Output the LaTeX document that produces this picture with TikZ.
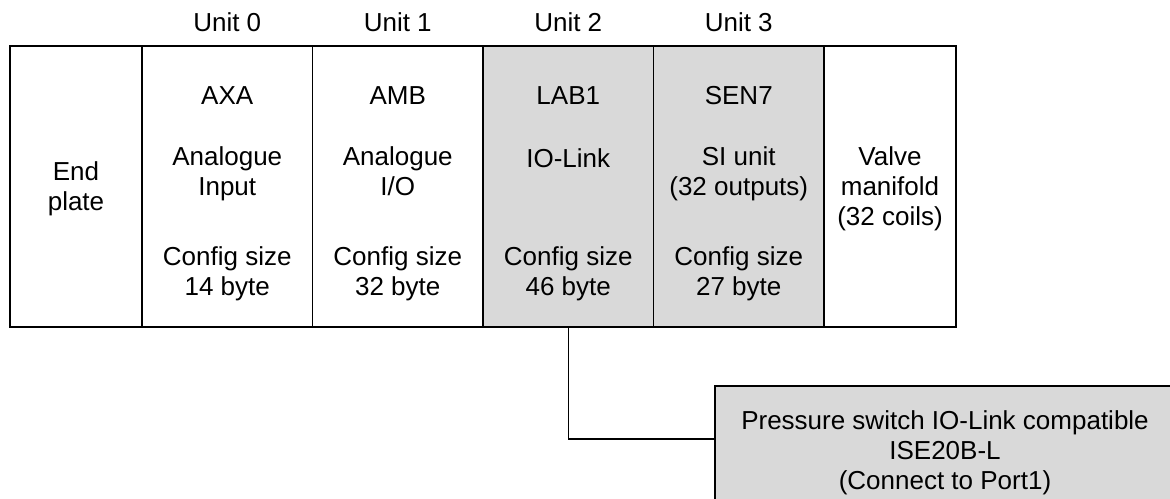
\documentclass[tikz,border=0pt]{standalone}
\usepackage{fontspec}
\setmainfont{Liberation Sans}
\usetikzlibrary{positioning}
\definecolor{unitgrey}{HTML}{D9D9D9}

\tikzset{
  unitbox/.style={draw, line width=1.5, minimum height=281pt, inner sep=0, outer sep=0, anchor=south west},
  lbl/.style={font=\fontsize{26}{30}\selectfont, align=center, inner sep=0, anchor=north, execute at begin node=\strut},
}

\begin{document}
\begin{tikzpicture}[x=1pt,y=1pt]
  \useasboundingbox (0,0) rectangle (1170,498);
  % module row
  \node[unitbox,minimum width=132pt] (endp) at (10,171) {};
  \node[unitbox,minimum width=170.5pt,right=0pt of endp] (u0) {};
  \node[unitbox,minimum width=170.5pt,right=0pt of u0] (u1) {};
  \node[unitbox,minimum width=170.5pt,fill=unitgrey,right=0pt of u1] (u2) {};
  \node[unitbox,minimum width=170.5pt,fill=unitgrey,right=0pt of u2] (u3) {};
  \node[unitbox,minimum width=132pt,right=0pt of u3] (valve) {};
  \draw[line width=2.5] (endp.south west) rectangle (valve.north east);
  % unit numbers
  \node[lbl] (u0num) at ([yshift=35.7pt]u0.north) {Unit 0};
  \node[lbl] (u1num) at ([yshift=35.7pt]u1.north) {Unit 1};
  \node[lbl] (u2num) at ([yshift=35.7pt]u2.north) {Unit 2};
  \node[lbl] (u3num) at ([yshift=35.7pt]u3.north) {Unit 3};
  % texts in the row
  \node[lbl] (endtxt) at ([yshift=-115.3pt]endp.north) {End\\plate};
  \node[lbl] (u0name) at ([yshift=-37.3pt]u0.north) {AXA};
  \node[lbl] (u0desc) at ([yshift=-100.3pt]u0.north) {Analogue\\Input};
  \node[lbl] (u0cfg) at ([yshift=-200.3pt]u0.north) {Config size\\14 byte};
  \node[lbl] (u1name) at ([yshift=-37.3pt]u1.north) {AMB};
  \node[lbl] (u1desc) at ([yshift=-100.3pt]u1.north) {Analogue\\I/O};
  \node[lbl] (u1cfg) at ([yshift=-200.3pt]u1.north) {Config size\\32 byte};
  \node[lbl] (u2name) at ([yshift=-37.3pt]u2.north) {LAB1};
  \node[lbl] (u2desc) at ([yshift=-100.3pt]u2.north) {IO-Link};
  \node[lbl] (u2cfg) at ([yshift=-200.3pt]u2.north) {Config size\\46 byte};
  \node[lbl] (u3name) at ([yshift=-37.3pt]u3.north) {SEN7};
  \node[lbl] (u3desc) at ([yshift=-100.3pt]u3.north) {SI unit\\(32 outputs)};
  \node[lbl] (u3cfg) at ([yshift=-200.3pt]u3.north) {Config size\\27 byte};
  \node[lbl] (valvetxt) at ([yshift=-100.3pt]valve.north) {Valve\\manifold\\(32 coils)};
  % pressure switch
  \node[draw,fill=unitgrey,line width=1.5,minimum width=460pt,minimum height=116pt,inner sep=0,outer sep=0,anchor=north west] (ise) at (715,112) {};
  \node[lbl] (isetxt) at ([yshift=-24.3pt]ise.north) {Pressure switch IO-Link compatible\\ISE20B-L\\(Connect to Port1)};
  \draw[line width=1.5] (u2.south) |- ([yshift=5pt]ise.west);
\end{tikzpicture}
\end{document}
